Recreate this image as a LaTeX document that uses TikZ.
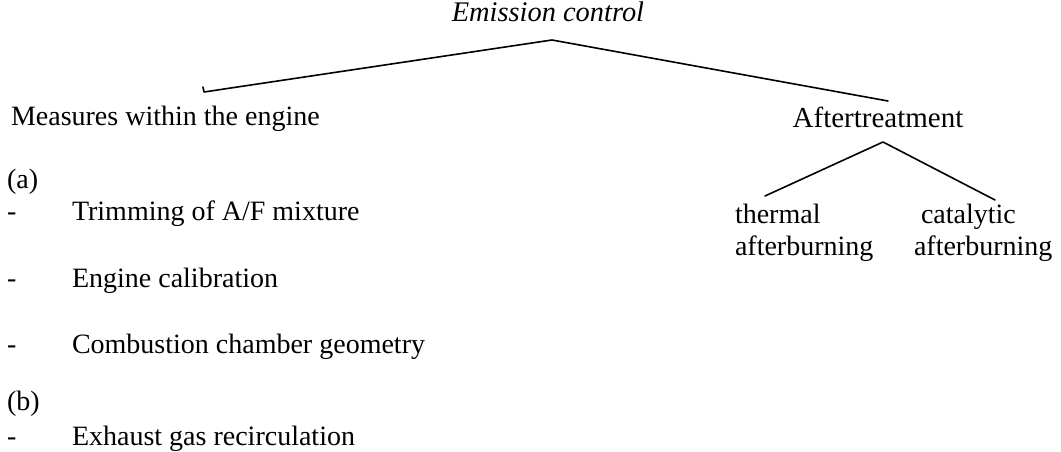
\documentclass[tikz,border=0pt]{standalone}
\usepackage{fontspec}
\setmainfont{Liberation Serif}
\begin{document}
\begin{tikzpicture}[x=1pt,y=-1pt,
  txt/.style={anchor=base west,inner sep=0pt,outer sep=0pt,
    font=\fontsize{28}{33}\selectfont},
  branch/.style={line width=1.6pt,line cap=round,line join=round}]
\useasboundingbox (0,0) rectangle (1061,452);

% heading
\node[txt,anchor=base,font=\fontsize{28.4}{33}\selectfont\itshape] (root) at (548,22) {Emission control};

% main branches
\node[txt] (inner) at (11,125) {Measures within the engine};
\node[txt,anchor=base,font=\fontsize{29}{33}\selectfont] (after) at (878,127) {Aftertreatment};

% items of the left column
\node[txt] (a) at (7,188) {(a)};
\node[txt] (d1) at (7,220) {-};
\node[txt] (i1) at (72,220) {Trimming of A/F mixture};
\node[txt] (d2) at (7,287) {-};
\node[txt] (i2) at (72,287) {Engine calibration};
\node[txt] (d3) at (7,353) {-};
\node[txt] (i3) at (72,353) {Combustion chamber geometry};
\node[txt] (b) at (7,410) {(b)};
\node[txt] (d4) at (7,445) {-};
\node[txt] (i4) at (72,445) {Exhaust gas recirculation};

% aftertreatment leaves
\node[txt] (th1) at (735,223) {thermal};
\node[txt] (th2) at (735,255) {afterburning};
\node[txt] (ca1) at (921,223) {catalytic};
\node[txt] (ca2) at (914,255) {afterburning};

% tree connectors
\coordinate (apex) at (552,40);
\coordinate (lend) at (204,92);
\coordinate (ltick) at (203,87);
\coordinate (rend) at (888,101);
\coordinate (sapex) at (883,142);
\coordinate (send1) at (765,196);
\coordinate (send2) at (995,200);

\draw[branch] (ltick) -- (lend) -- (apex) -- (rend);
\draw[branch] (send1) -- (sapex) -- (send2);
\end{tikzpicture}
\end{document}
